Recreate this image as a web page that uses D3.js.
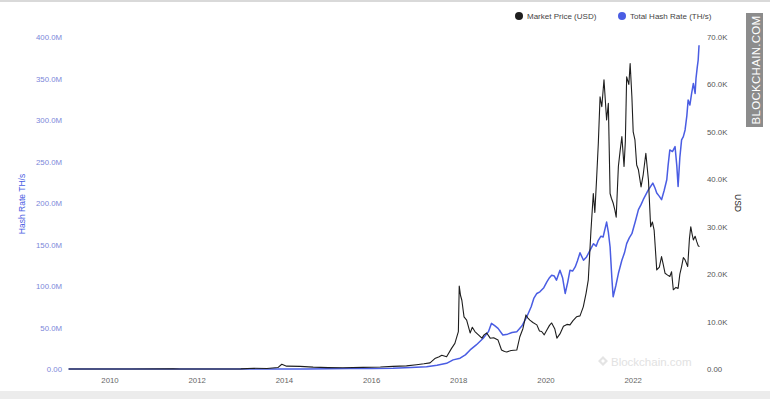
<!DOCTYPE html>
<html>
<head>
<meta charset="utf-8">
<script src="https://cdn.jsdelivr.net/npm/d3@7/dist/d3.min.js"></script>
<style>
  html, body { margin: 0; padding: 0; background: #fff; }
  svg { display: block; font-family: "Liberation Sans", Arial, sans-serif; }
</style>
</head>
<body>
<svg id="chart" width="770" height="399"></svg>
<script>
// ---- data (decimal year, value) ----
const priceYears = [2009.05, 2010.5, 2011.45, 2011.6, 2012.5, 2013.0, 2013.3, 2013.6, 2013.85, 2013.94, 2014.05, 2014.36, 2014.66, 2015.0, 2015.34, 2015.8, 2016.2, 2016.49, 2016.8, 2017.03, 2017.2, 2017.34, 2017.45, 2017.55, 2017.61, 2017.72, 2017.83, 2017.91, 2017.99, 2018.01, 2018.04, 2018.07, 2018.12, 2018.18, 2018.26, 2018.31, 2018.37, 2018.45, 2018.53, 2018.58, 2018.64, 2018.72, 2018.8, 2018.9, 2018.98, 2019.05, 2019.1, 2019.2, 2019.33, 2019.4, 2019.47, 2019.54, 2019.58, 2019.63, 2019.7, 2019.79, 2019.85, 2019.9, 2019.96, 2020.02, 2020.08, 2020.13, 2020.2, 2020.25, 2020.32, 2020.4, 2020.48, 2020.55, 2020.62, 2020.7, 2020.78, 2020.855, 2020.92, 2020.97, 2021.03, 2021.085, 2021.12, 2021.16, 2021.2, 2021.24, 2021.28, 2021.33, 2021.39, 2021.43, 2021.47, 2021.5, 2021.54, 2021.58, 2021.61, 2021.66, 2021.7, 2021.74, 2021.79, 2021.82, 2021.85, 2021.9, 2021.93, 2021.97, 2022.0, 2022.04, 2022.08, 2022.12, 2022.18, 2022.23, 2022.29, 2022.35, 2022.4, 2022.44, 2022.48, 2022.54, 2022.6, 2022.65, 2022.69, 2022.73, 2022.79, 2022.84, 2022.88, 2022.92, 2022.98, 2023.03, 2023.07, 2023.11, 2023.15, 2023.19, 2023.25, 2023.29, 2023.32, 2023.35, 2023.38, 2023.42, 2023.46, 2023.49, 2023.52];
const priceK = [0, 0, 0.03, 0.01, 0.01, 0.02, 0.15, 0.1, 0.3, 1.0, 0.6, 0.55, 0.4, 0.3, 0.25, 0.35, 0.42, 0.55, 0.65, 0.9, 1.1, 1.3, 2.2, 2.6, 2.9, 2.6, 4.3, 5.4, 7.9, 17.5, 15.5, 14.5, 11.0, 10.3, 7.6, 8.8, 7.9, 7.2, 6.5, 7.2, 7.6, 6.5, 6.6, 6.1, 4.0, 3.7, 3.6, 3.9, 4.0, 6.8, 8.5, 11.4, 10.8, 10.3, 9.8, 9.3, 8.0, 7.9, 7.2, 8.2, 9.2, 9.7, 8.5, 6.5, 7.4, 9.0, 9.4, 9.3, 10.2, 11.0, 11.2, 13.1, 16.0, 18.8, 29.0, 37.0, 33.0, 40.0, 47.6, 57.4, 55.3, 61.0, 52.5, 56.0, 37.0, 36.0, 35.0, 33.5, 32.0, 42.7, 46.0, 49.0, 42.7, 48.0, 61.6, 60.0, 64.4, 57.4, 50.0, 48.3, 43.0, 42.0, 38.4, 41.0, 45.5, 39.8, 30.0, 31.0, 29.3, 20.9, 21.5, 23.7, 22.0, 20.2, 19.8, 19.5, 20.5, 16.7, 17.2, 17.0, 20.0, 21.6, 23.5, 23.0, 21.6, 27.5, 30.0, 28.5, 27.2, 28.0, 26.8, 26.0, 25.8];

const hashYears = [2009.05, 2011.0, 2012.5, 2013.5, 2014.0, 2014.5, 2015.0, 2015.5, 2016.0, 2016.49, 2016.9, 2017.26, 2017.5, 2017.72, 2017.87, 2018.03, 2018.15, 2018.26, 2018.4, 2018.56, 2018.68, 2018.75, 2018.83, 2018.9, 2019.01, 2019.12, 2019.22, 2019.33, 2019.45, 2019.56, 2019.66, 2019.72, 2019.79, 2019.86, 2019.95, 2020.02, 2020.08, 2020.13, 2020.19, 2020.24, 2020.32, 2020.38, 2020.44, 2020.5, 2020.55, 2020.61, 2020.67, 2020.72, 2020.78, 2020.86, 2020.93, 2021.0, 2021.09, 2021.15, 2021.2, 2021.26, 2021.31, 2021.39, 2021.43, 2021.47, 2021.51, 2021.54, 2021.6, 2021.66, 2021.74, 2021.8, 2021.85, 2021.91, 2021.97, 2022.05, 2022.12, 2022.18, 2022.23, 2022.29, 2022.35, 2022.45, 2022.5, 2022.54, 2022.6, 2022.65, 2022.71, 2022.77, 2022.8, 2022.84, 2022.9, 2022.96, 2023.0, 2023.03, 2023.07, 2023.11, 2023.15, 2023.19, 2023.23, 2023.26, 2023.3, 2023.34, 2023.38, 2023.42, 2023.44, 2023.47, 2023.49, 2023.51];
const hashM = [0, 0, 0, 0.02, 0.05, 0.15, 0.35, 0.5, 0.7, 0.8, 1.8, 2.8, 4.5, 6.8, 11.0, 13.0, 17.0, 23.0, 29.0, 37.0, 45.0, 55.0, 52.0, 49.0, 41.0, 42.0, 44.0, 45.0, 52.0, 63.0, 75.0, 85.0, 91.0, 93.0, 98.0, 105.0, 110.0, 113.0, 112.0, 107.0, 119.0, 110.0, 91.0, 105.0, 119.0, 118.0, 123.0, 130.0, 140.0, 131.0, 135.0, 142.0, 151.0, 148.0, 155.0, 160.0, 159.0, 177.0, 165.0, 147.0, 110.0, 87.0, 100.0, 115.0, 131.0, 140.0, 151.0, 158.0, 163.0, 178.0, 192.0, 198.0, 204.0, 210.0, 216.0, 224.0, 218.0, 212.0, 208.0, 204.0, 215.0, 228.0, 245.0, 264.0, 262.0, 268.0, 245.0, 220.0, 255.0, 276.0, 280.0, 288.0, 305.0, 324.0, 318.0, 332.0, 344.0, 332.0, 350.0, 364.0, 372.0, 390.0];

const xTickYears = [2010, 2012, 2014, 2016, 2018, 2020, 2022];
const hashTicks = [0, 50, 100, 150, 200, 250, 300, 350, 400];
const priceTicks = [0, 10, 20, 30, 40, 50, 60, 70];
const seriesNames = ["Market Price (USD)", "Total Hash Rate (TH/s)"];

// ---- layout ----
const svg = d3.select("#chart");
const W = 770, H = 399;
const BLUE = "#4a5de3", BLACK = "#1e1e1e";

svg.append("rect").attr("x", 0).attr("y", 0).attr("width", W).attr("height", H).attr("fill", "#fff");
// frame remnants of the screenshot
svg.append("rect").attr("x", 0).attr("y", 0).attr("width", W).attr("height", 2).attr("fill", "#d9d9d9");
svg.append("rect").attr("x", 0).attr("y", 391).attr("width", W).attr("height", 8).attr("fill", "#ececec");

const x = d3.scaleLinear().domain([2010, 2022]).range([110, 633.2]);
const yHash = d3.scaleLinear().domain([0, 400]).range([369, 37]);
const yPrice = d3.scaleLinear().domain([0, 70]).range([369, 37]);

// faint watermark
const wm = svg.append("g").attr("opacity", 1);
wm.append("path")
  .attr("d", "M603,356 l5,5 l-5,5 l-5,-5 z M603,359 l2,2 l-2,2 l-2,-2 z")
  .attr("fill", "#e4e4e4").attr("fill-rule", "evenodd");
wm.append("text").attr("x", 611).attr("y", 366).attr("font-size", 11.5)
  .attr("fill", "#e2e2e2").text("Blockchain.com");

// left axis ticks
const gl = svg.append("g");
gl.selectAll("text").data(hashTicks).join("text")
  .attr("x", 62).attr("y", d => yHash(d) + 3)
  .attr("text-anchor", "end").attr("font-size", 7.8).attr("fill", "#7b86d9")
  .text(d => d === 0 ? "0.00" : d.toFixed(1) + "M");

// right axis ticks
const gr = svg.append("g");
gr.selectAll("text").data(priceTicks).join("text")
  .attr("x", 707).attr("y", d => yPrice(d) + 3)
  .attr("text-anchor", "start").attr("font-size", 7.8).attr("fill", "#555")
  .text(d => d === 0 ? "0.00" : d.toFixed(1) + "K");

// x axis ticks
const gx = svg.append("g");
gx.selectAll("text").data(xTickYears).join("text")
  .attr("x", d => x(d)).attr("y", 383)
  .attr("text-anchor", "middle").attr("font-size", 7.8).attr("fill", "#666")
  .text(d => d);

// axis titles
svg.append("text").attr("transform", "translate(25,204) rotate(-90)")
  .attr("text-anchor", "middle").attr("font-size", 8.5).attr("fill", "#4a5de3")
  .text("Hash Rate TH/s");
svg.append("text").attr("transform", "translate(735,203) rotate(90)")
  .attr("text-anchor", "middle").attr("font-size", 8.5).attr("fill", "#222")
  .text("USD");

// lines
const hashData = hashYears.map((t, i) => [t, hashM[i]]);
const priceData = priceYears.map((t, i) => [t, priceK[i]]);

svg.append("path").datum(hashData)
  .attr("fill", "none").attr("stroke", BLUE).attr("stroke-width", 1.5)
  .attr("stroke-linejoin", "round")
  .attr("d", d3.line().x(d => x(d[0])).y(d => yHash(d[1])));

svg.append("path").datum(priceData)
  .attr("fill", "none").attr("stroke", BLACK).attr("stroke-width", 1.1)
  .attr("stroke-linejoin", "round")
  .attr("d", d3.line().x(d => x(d[0])).y(d => yPrice(d[1])));

// legend
const leg = svg.append("g");
const legX = [519, 622];
const legC = [BLACK, BLUE];
seriesNames.forEach((n, i) => {
  leg.append("circle").attr("cx", legX[i]).attr("cy", 16).attr("r", 4).attr("fill", legC[i]);
  leg.append("text").attr("x", legX[i] + 8).attr("y", 19).attr("font-size", 8)
    .attr("fill", "#444").text(n);
});

// vertical site watermark
svg.append("rect").attr("x", 746).attr("y", 13).attr("width", 17).attr("height", 114)
  .attr("fill", "#8c8c8c");
svg.append("text").attr("transform", "translate(759.5,70) rotate(-90)")
  .attr("text-anchor", "middle").attr("font-size", 11.5).attr("fill", "#fff")
  .attr("letter-spacing", 0.3)
  .text("BLOCKCHAIN.COM");
</script>
</body>
</html>
